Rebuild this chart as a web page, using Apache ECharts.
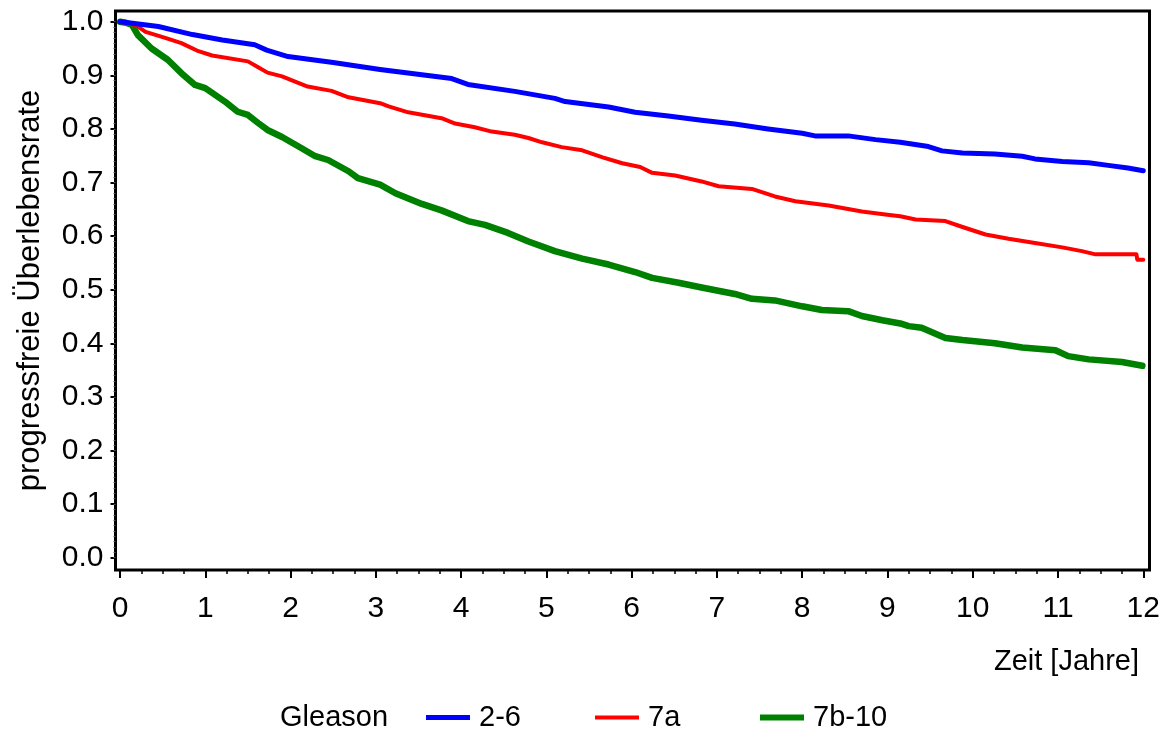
<!DOCTYPE html>
<html>
<head>
<meta charset="utf-8">
<script src="https://cdn.jsdelivr.net/npm/echarts@6/dist/echarts.min.js"></script>
<style>
html,body{margin:0;padding:0;background:#fff;}
#chart{width:1168px;height:731px;}
</style>
</head>
<body>
<div id="chart"></div>
<script>
// ---- data ----
const seriesNames = ['2-6', '7a', '7b-10'];
const xTickLabels = [0,1,2,3,4,5,6,7,8,9,10,11,12];
const yTickLabels = [0.0,0.1,0.2,0.3,0.4,0.5,0.6,0.7,0.8,0.9,1.0];

const tBlue = [0,0.1,0.45,0.85,1.2,1.58,1.72,1.97,2.5,3.05,3.54,3.89,4.08,4.63,5.1,5.22,5.73,6.04,6.43,6.82,7.21,7.6,8.0,8.15,8.54,8.86,9.15,9.48,9.64,9.88,10.26,10.58,10.73,11.05,11.36,11.59,11.82,12.0];
const sBlue = [1.0,0.998,0.991,0.976,0.966,0.957,0.947,0.935,0.924,0.911,0.901,0.894,0.883,0.870,0.857,0.851,0.841,0.831,0.824,0.816,0.809,0.800,0.792,0.787,0.787,0.780,0.775,0.767,0.759,0.755,0.753,0.749,0.744,0.739,0.737,0.732,0.727,0.722];

const tRed = [0,0.18,0.3,0.53,0.72,0.92,1.08,1.5,1.62,1.73,1.9,2.2,2.48,2.68,3.05,3.15,3.38,3.77,3.93,4.16,4.36,4.63,4.79,4.95,5.18,5.42,5.66,5.89,6.1,6.24,6.51,6.82,7.02,7.41,7.68,7.92,8.31,8.7,9.0,9.15,9.33,9.68,9.88,10.15,10.42,10.73,11.05,11.28,11.44,11.92,11.93,12.0];
const sRed = [1.0,0.994,0.981,0.970,0.960,0.945,0.937,0.926,0.915,0.905,0.898,0.879,0.871,0.859,0.848,0.842,0.831,0.820,0.810,0.803,0.795,0.789,0.783,0.775,0.766,0.760,0.747,0.736,0.729,0.718,0.713,0.702,0.693,0.688,0.674,0.665,0.657,0.646,0.640,0.637,0.631,0.628,0.617,0.603,0.595,0.587,0.579,0.572,0.566,0.566,0.556,0.556];

const tGreen = [0,0.07,0.14,0.21,0.37,0.56,0.72,0.88,1.0,1.23,1.38,1.5,1.62,1.73,1.9,2.13,2.29,2.44,2.68,2.79,3.05,3.23,3.54,3.77,4.08,4.28,4.55,4.79,5.1,5.42,5.73,6.04,6.24,6.55,6.82,7.21,7.41,7.68,8.0,8.23,8.54,8.7,8.94,9.15,9.25,9.4,9.68,9.88,10.26,10.58,10.97,11.12,11.36,11.75,11.99];
const sGreen = [1.0,0.998,0.994,0.975,0.950,0.929,0.904,0.882,0.876,0.851,0.832,0.826,0.811,0.798,0.785,0.764,0.749,0.742,0.721,0.708,0.696,0.680,0.660,0.648,0.628,0.621,0.606,0.590,0.572,0.558,0.547,0.533,0.522,0.513,0.504,0.492,0.483,0.480,0.469,0.462,0.460,0.451,0.443,0.437,0.432,0.429,0.410,0.406,0.400,0.392,0.387,0.376,0.370,0.365,0.358];

// ---- build ----
const zip = (a, b) => a.map((v, i) => [v, b[i]]);
const FONT = '"Liberation Sans", Arial, Helvetica, sans-serif';
const colors = ['#0000FF', '#FF0000', '#008000'];
const widths = [5, 4, 6.5];

const xMinor = [];
for (let i = 0; i <= 48; i++) xMinor.push(i / 4);
const yMinor = [];
for (let i = 0; i <= 100; i++) yMinor.push(i / 100);

const XMIN = -0.053, XMAX = 12.073, YMIN = -0.023, YMAX = 1.020;

const chart = echarts.init(document.getElementById('chart'), null, {renderer: 'canvas'});
const option = {
  animation: false,
  backgroundColor: '#fff',
  title: [
    {text: 'Gleason', left: 280, top: 703, padding: 0,
     textStyle: {fontFamily: FONT, fontSize: 29, fontWeight: 'normal', color: '#000'}},
    {text: 'Zeit [Jahre]', right: 29, top: 647, padding: 0,
     textStyle: {fontFamily: FONT, fontSize: 29, fontWeight: 'normal', color: '#000'}}
  ],
  legend: seriesNames.map((n, i) => ({
    data: [n],
    left: [426, 595, 760][i],
    top: 703,
    padding: 0,
    selectedMode: false,
    icon: 'rect',
    itemWidth: 44,
    itemHeight: [5, 4, 6][i],
    textStyle: {fontFamily: FONT, fontSize: 29, color: '#000', padding: [0, 0, 0, 4]}
  })),
  grid: {
    left: 115.5, top: 11, right: 18.5, bottom: 161,
    show: true, borderColor: '#000', borderWidth: 3, backgroundColor: 'transparent'
  },
  xAxis: [
    {
      type: 'value', min: XMIN, max: XMAX, position: 'bottom',
      axisLine: {show: false, onZero: false},
      splitLine: {show: false},
      axisTick: {show: true, inside: false, customValues: xTickLabels, length: 8, lineStyle: {color: '#000', width: 2}},
      axisLabel: {show: true, customValues: xTickLabels, margin: 24, fontFamily: FONT, fontSize: 30, color: '#000'}
    },
    {
      type: 'value', min: XMIN, max: XMAX, position: 'bottom',
      axisLine: {show: false, onZero: false},
      splitLine: {show: false},
      axisTick: {show: true, inside: false, customValues: xMinor, length: 4, lineStyle: {color: '#000', width: 1.5}},
      axisLabel: {show: false}
    }
  ],
  yAxis: [
    {
      type: 'value', min: YMIN, max: YMAX, position: 'left',
      axisLine: {show: false, onZero: false},
      splitLine: {show: false},
      axisTick: {show: true, inside: false, customValues: yTickLabels, length: 5, lineStyle: {color: '#000', width: 2}},
      axisLabel: {show: true, customValues: yTickLabels, margin: 12, fontFamily: FONT, fontSize: 30, color: '#000',
                  formatter: v => v.toFixed(1)},
      name: 'progressfreie Überlebensrate',
      nameLocation: 'middle',
      nameGap: 70,
      nameTextStyle: {fontFamily: FONT, fontSize: 31, color: '#000'}
    },
    {
      type: 'value', min: YMIN, max: YMAX, position: 'left',
      axisLine: {show: false, onZero: false},
      splitLine: {show: false},
      axisTick: {show: true, inside: false, customValues: yMinor, length: 2, lineStyle: {color: '#555', width: 1}},
      axisLabel: {show: false}
    }
  ],
  series: [
    [tBlue, sBlue], [tRed, sRed], [tGreen, sGreen]
  ].map((p, i) => ({
    name: seriesNames[i],
    type: 'line',
    xAxisIndex: 0, yAxisIndex: 0,
    data: zip(p[0], p[1]),
    showSymbol: false,
    symbol: 'none',
    color: colors[i],
    itemStyle: {color: colors[i]},
    lineStyle: {color: colors[i], width: widths[i], cap: 'round', join: 'round'},
    z: 3 - i
  }))
};
chart.setOption(option);
</script>
</body>
</html>
